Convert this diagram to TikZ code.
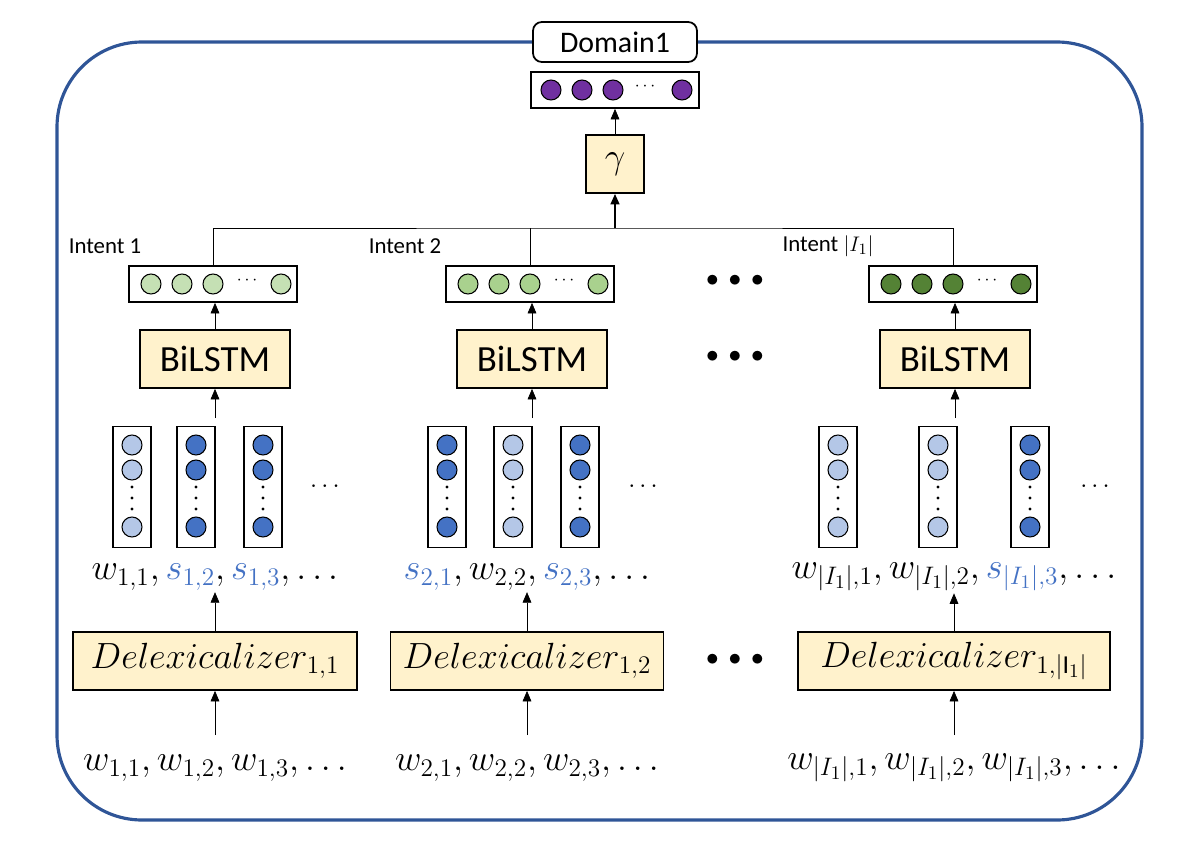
\documentclass[tikz,border=0pt]{standalone}
\usepackage{fontspec}
\setmainfont{Carlito}
\usetikzlibrary{arrows.meta,positioning}

\definecolor{frameblue}{HTML}{2F5597}
\definecolor{boxyellow}{HTML}{FFF2CC}
\definecolor{purp}{HTML}{7030A0}
\definecolor{greenA}{HTML}{C5E0B4}
\definecolor{greenB}{HTML}{A9D18E}
\definecolor{greenC}{HTML}{548235}
\definecolor{lblue}{HTML}{B4C7E7}
\definecolor{dblue}{HTML}{4472C4}
\definecolor{sblue}{HTML}{4472C4}

\tikzset{
	vec/.style = {draw, line width=1pt, minimum width=3.36cm, minimum height=0.72cm, inner sep=0pt},
	unit/.style = {circle, draw, line width=0.6pt, minimum size=0.4cm, inner sep=0pt},
	col/.style = {draw, line width=1pt, minimum width=0.76cm, minimum height=2.42cm, inner sep=0pt},
	blk/.style = {draw, line width=1pt, fill=boxyellow, minimum height=1.16cm, inner sep=0pt},
	big/.style = {font=\fontsize{21}{21}\selectfont},
	lbl/.style = {font=\fontsize{13}{13}\selectfont},
}

\begin{document}
\begin{tikzpicture}[x=0.02cm, y=-0.02cm, >={Triangle[length=6pt,width=5pt]}]
		\useasboundingbox (0,0) rectangle (1200,862);
		\draw[frameblue, line width=1.8pt, rounded corners=1.7cm] (57,42) rectangle (1142,820);
		\node[draw, line width=1pt, rounded corners=5pt, fill=white, minimum width=3.28cm, minimum height=0.8cm, font=\fontsize{17}{17}\selectfont] (dom) at (615,42) {Domain1};

		% top vector and gamma
		\node[vec] (top) at (615,90) {};
		\foreach \o [count=\i] in {-64,-33,-2,67}
			\node[unit, fill=purp] (top\i) at (615+\o,90) {};
		\node (topd) at (645,87) {$\cdots$};
		\node[blk, minimum width=1.16cm, big] (gam) at (615,164) {$\gamma$};
		\coordinate (join) at (615,228);
		\draw[->] (gam) -- (top);
		\draw[->, line width=1.2pt] (join) -- (gam);

		\foreach \g/\cx/\vcol/\xa/\xb/\xc/\ca/\cb/\cc/\dotx/\words/\dx/\dw/\delex/\inwords/\labx/\lab in {
				1/213/greenA/132/196/263/lblue/dblue/dblue/325/{$w_{1,1},\textcolor{sblue}{s_{1,2}},\textcolor{sblue}{s_{1,3}},\dots$}/215/5.68cm/{$Delexicalizer_{1,1}$}/{$w_{1,1},w_{1,2},w_{1,3},\dots$}/105/{Intent 1},
				2/530/greenB/447/513/580/dblue/lblue/dblue/643/{$\textcolor{sblue}{s_{2,1}},w_{2,2},\textcolor{sblue}{s_{2,3}},\dots$}/527/5.46cm/{$Delexicalizer_{1,2}$}/{$w_{2,1},w_{2,2},w_{2,3},\dots$}/405/{Intent 2},
				3/953/greenC/838/938/1030/lblue/lblue/dblue/1095/{$w_{|I_1|,1},w_{|I_1|,2},\textcolor{sblue}{s_{|I_1|,3}},\dots$}/954/6.24cm/{$Delexicalizer_{1,|\mathrm{I}_1|}$}/{$w_{|I_1|,1},w_{|I_1|,2},w_{|I_1|,3},\dots$}/828/{Intent $|I_1|$}
		}{
		\node[vec] (v\g) at (\cx,284) {};
		\foreach \o [count=\i] in {-62,-31,0,68}
			\node[unit, fill=\vcol] (v\g c\i) at (\cx+\o,284) {};
		\node (v\g d) at (\cx+34,281) {$\cdots$};
		\node[lbl] (l\g) at (\labx,246) {\lab};
		\node[blk, big, minimum width=3cm] (b\g) at (\cx+2,359) {BiLSTM};
		\draw[->] (b\g) -- (v\g.south -| b\g);
		\coordinate (a\g) at (\cx+2,418);
		\draw[->] (a\g) -- (b\g);
		\foreach \x/\c [count=\j] in {\xa/\ca,\xb/\cb,\xc/\cc}{
			\node[col] (c\g\j) at (\x,487) {};
			\node[unit, fill=\c] (c\g\j a) at (\x,445) {};
			\node[unit, fill=\c] (c\g\j b) at (\x,470) {};
			\node[unit, fill=\c] (c\g\j c) at (\x,527) {};
			\foreach \yy in {487,498,509}
				\fill (\x,\yy) circle (0.9pt);
		}
		\node[font=\Large] (e\g) at (\dotx,487) {$\cdots$};
		\node[big, inner sep=1pt] (w\g) at (\dx,577) {\words};
		\node[blk, big, minimum width=\dw] (d\g) at (\dx,661) {\delex};
		\draw[->] (d\g) -- (w\g);
		\node[big, inner sep=1pt] (in\g) at (\dx,768) {\inwords};
		\coordinate (f\g) at (\dx,735);
		\draw[->] (f\g) -- (d\g);
		}

		\draw (v1.north) |- (join) -| (v3.north);
		\draw (v2.north) -- (v2.north |- join);
		\foreach \y/\n in {281/ga, 357/gb, 660/gc}
			\node[font=\Large] (\n) at (735,\y) {$\bullet\,\bullet\,\bullet$};
\end{tikzpicture}
\end{document}
